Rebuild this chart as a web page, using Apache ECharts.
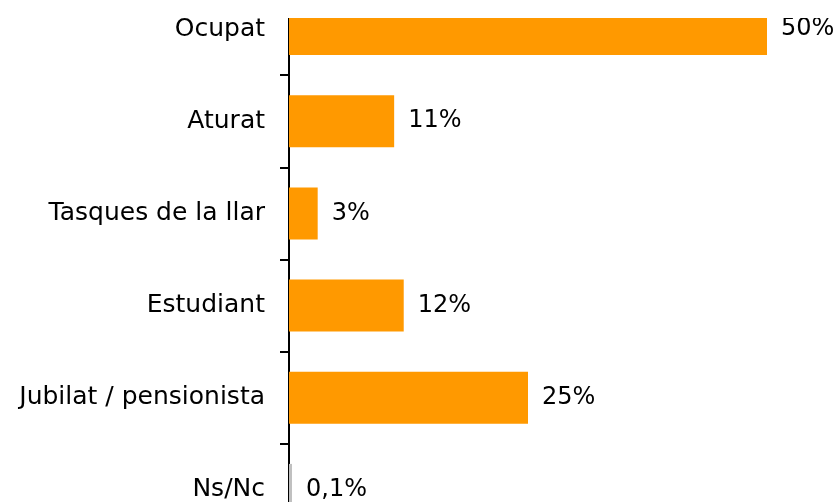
<!DOCTYPE html>
<html>
<head>
<meta charset="utf-8">
<script src="https://cdn.jsdelivr.net/npm/echarts@6/dist/echarts.min.js"></script>
<style>
  html, body { margin: 0; padding: 0; background: #fff; }
  /* the reference is cropped: nothing is drawn above y=18 or below the window */
  #clip { position: absolute; left: 0; top: 18px; width: 834px; height: 484px; overflow: hidden; }
  #main { position: absolute; left: 0; top: -45.4px; width: 834px; height: 573px; }
</style>
</head>
<body>
<div id="clip"><div id="main"></div></div>
<script>
const categories = ['Ocupat', 'Aturat', 'Tasques de la llar', 'Estudiant', 'Jubilat / pensionista', 'Ns/Nc'];
const values = [50, 11, 3, 12, 25, 0.1];
const valueLabels = ['50%', '11%', '3%', '12%', '25%', '0,1%'];
const barColors = ['#ff9900', '#ff9900', '#ff9900', '#ff9900', '#ff9900', '#c0c0c0'];

const chart = echarts.init(document.getElementById('main'));
const font = 'DejaVu Sans';

const option = {
  animation: false,
  grid: {
    left: 289,
    right: 67,
    top: 10,
    bottom: 10,
    containLabel: false
  },
  xAxis: {
    type: 'value',
    min: 0,
    max: 50,
    show: false
  },
  yAxis: {
    type: 'category',
    inverse: true,
    data: categories,
    axisLine: { show: true, lineStyle: { color: '#000', width: 2 } },
    axisTick: { show: true, length: 9, lineStyle: { color: '#000', width: 2 } },
    axisLabel: { color: '#000', fontFamily: font, fontSize: 25, margin: 24 }
  },
  series: [{
    type: 'bar',
    barWidth: 52,
    barMinHeight: 3,
    data: values.map((v, i) => ({
      value: v,
      itemStyle: { color: barColors[i] },
      label: { formatter: valueLabels[i] }
    })),
    label: {
      show: true,
      position: 'right',
      distance: 14,
      color: '#000',
      fontFamily: font,
      fontSize: 24
    }
  }]
};

chart.setOption(option);
</script>
</body>
</html>
